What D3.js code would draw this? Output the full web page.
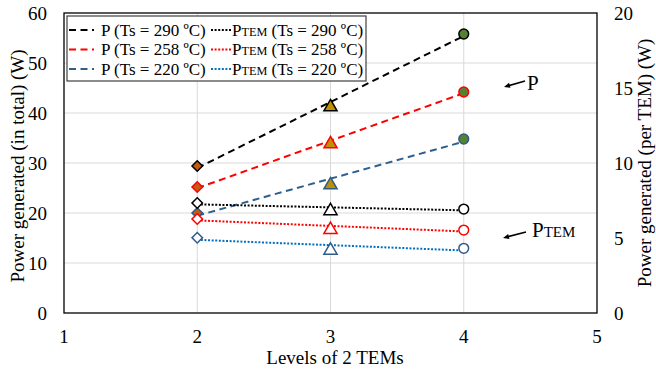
<!DOCTYPE html>
<html>
<head>
<meta charset="utf-8">
<script src="https://cdn.jsdelivr.net/npm/d3@7"></script>
<style>
  body { margin: 0; background: #fff; }
  svg text { font-family: "Liberation Serif", "Times New Roman", serif; fill: #000; }
</style>
</head>
<body>
<svg class="svg"></svg>
<script>
// data
const levels = [2, 3, 4]
const pTotal290 = [29.4, 41.4, 55.8]
const pTotal258 = [25.2, 34.0, 44.2]
const pTotal220 = [20.0, 25.8, 34.8]
const pTem290 = [7.33, 6.87, 6.93]
const pTem258 = [6.27, 5.62, 5.53]
const pTem220 = [5.02, 4.24, 4.31]
const xTicks = [1, 2, 3, 4, 5]
const yLeftTicks = [0, 10, 20, 30, 40, 50, 60]
const yRightTicks = [0, 5, 10, 15, 20]
const temps = ["290", "258", "220"]

const metrics = { width: 656, height: 371, left: 64, right: 597, top: 13, bottom: 313 }

const svg = d3.select(".svg")
  .attr("width", metrics.width)
  .attr("height", metrics.height)

svg.append("rect").attr("width", metrics.width).attr("height", metrics.height).attr("fill", "#fff")

const x = d3.scaleLinear().domain([1, 5]).range([metrics.left, metrics.right])
const yL = d3.scaleLinear().domain([0, 60]).range([metrics.bottom, metrics.top])
const yR = d3.scaleLinear().domain([0, 20]).range([metrics.bottom, metrics.top])

// gridlines
const grid = svg.append("g")
grid.selectAll("line.h")
  .data(yLeftTicks.slice(1, -1))
  .join("line")
  .attr("x1", metrics.left).attr("x2", metrics.right)
  .attr("y1", d => yL(d)).attr("y2", d => yL(d))
  .attr("stroke", "#d9d9d9").attr("stroke-width", 1)
grid.selectAll("line.v")
  .data(xTicks.slice(1, -1))
  .join("line")
  .attr("y1", metrics.top).attr("y2", metrics.bottom)
  .attr("x1", d => x(d)).attr("x2", d => x(d))
  .attr("stroke", "#d9d9d9").attr("stroke-width", 1)

// frame
svg.append("rect")
  .attr("x", metrics.left).attr("y", metrics.top)
  .attr("width", metrics.right - metrics.left).attr("height", metrics.bottom - metrics.top)
  .attr("fill", "none").attr("stroke", "#000").attr("stroke-width", 1.3)

// tick labels
const fs = 19
svg.append("g").selectAll("text")
  .data(yLeftTicks).join("text")
  .attr("x", 47).attr("y", d => yL(d)).attr("dy", "0.35em")
  .attr("text-anchor", "end").attr("font-size", fs).text(d => d)
svg.append("g").selectAll("text")
  .data(yRightTicks).join("text")
  .attr("x", 614).attr("y", d => yR(d)).attr("dy", "0.35em")
  .attr("font-size", fs).text(d => d)
svg.append("g").selectAll("text")
  .data(xTicks).join("text")
  .attr("x", d => x(d)).attr("y", 343)
  .attr("text-anchor", "middle").attr("font-size", fs).text(d => d)

// axis titles
svg.append("text").attr("x", 335).attr("y", 364).attr("text-anchor", "middle")
  .attr("font-size", fs).text("Levels of 2 TEMs")
svg.append("text").attr("transform", `translate(24,${(metrics.top + metrics.bottom) / 2 + 3}) rotate(-90)`)
  .attr("text-anchor", "middle").attr("font-size", fs).text("Power generated (in total) (W)")
svg.append("text").attr("transform", `translate(651,${(metrics.top + metrics.bottom) / 2}) rotate(-90)`)
  .attr("text-anchor", "middle").attr("font-size", fs).text("Power generated (per TEM) (W)")

// trend line (least squares) from the points
function fit(xs, ys) {
  const mx = d3.mean(xs), my = d3.mean(ys)
  const b = d3.sum(xs, (v, i) => (v - mx) * (ys[i] - my)) / d3.sum(xs, v => (v - mx) ** 2)
  return v => my + b * (v - mx)
}

const fills = ["#c55a11", "#bf9000", "#548235"]
const shapes = [d3.symbolSquare, d3.symbolTriangle, d3.symbolCircle]
const sizes = [55, 75, 75]
const rot = [45, 0, 0]

const series = [
  { vals: pTotal290, y: yL, line: "#000", mark: "#000", dash: "7,4.5", filled: true },
  { vals: pTotal258, y: yL, line: "#ff0000", mark: "#ff0000", dash: "7,4.5", filled: true },
  { vals: pTotal220, y: yL, line: "#2f5f8f", mark: "#2e5b8a", dash: "7,4.5", filled: true },
  { vals: pTem290, y: yR, line: "#000", mark: "#000", dash: "2,1.6", filled: false },
  { vals: pTem258, y: yR, line: "#ff0000", mark: "#ff0000", dash: "2,1.6", filled: false },
  { vals: pTem220, y: yR, line: "#0070c0", mark: "#2e5b8a", dash: "2,1.6", filled: false }
]

const plot = svg.append("g")
series.forEach(s => {
  const f = fit(levels, s.vals)
  const ends = [levels[0], levels[levels.length - 1]]
  plot.append("path")
    .attr("d", d3.line().x(d => x(d)).y(d => s.y(f(d)))(ends))
    .attr("fill", "none").attr("stroke", s.line).attr("stroke-width", 2)
    .attr("stroke-dasharray", s.dash)
})
series.forEach(s => {
  plot.selectAll(null)
    .data(s.vals)
    .join("path")
    .attr("transform", (d, i) => `translate(${x(levels[i])},${s.y(d) + (i === 1 ? 1 : 0)}) rotate(${rot[i]})`)
    .attr("d", (d, i) => d3.symbol().type(shapes[i]).size(sizes[i])())
    .attr("fill", (d, i) => s.filled ? fills[i] : "#fff")
    .attr("stroke", s.mark).attr("stroke-width", 1.5)
})

// legend
const lg = svg.append("g")
lg.append("rect").attr("x", 67).attr("y", 16).attr("width", 299).attr("height", 65)
  .attr("fill", "#fff").attr("stroke", "#404040").attr("stroke-width", 1.2)
const lfs = 17
series.forEach((s, i) => {
  const col = i < 3 ? 0 : 1
  const row = i % 3
  const ly = 30 + row * 19.5
  const lx = col === 0 ? 69 : 211
  const lw = col === 0 ? 25 : 20
  lg.append("line").attr("x1", lx).attr("x2", lx + lw).attr("y1", ly).attr("y2", ly)
    .attr("stroke", s.line).attr("stroke-width", 2).attr("stroke-dasharray", s.dash)
  const t = lg.append("text").attr("x", col === 0 ? 101 : 232).attr("y", ly).attr("dy", "0.35em")
    .attr("font-size", lfs)
  if (col === 0) {
    t.text(`P (Ts = ${temps[row]} ºC)`)
  } else {
    t.append("tspan").text("P")
    t.append("tspan").attr("font-size", lfs * 0.72).text("TEM")
    t.append("tspan").text(` (Ts = ${temps[row]} ºC)`)
  }
})

// annotations
function arrow(x1, y1, x2, y2) {
  const a = Math.atan2(y2 - y1, x2 - x1)
  const L = 6, W = 2.6
  svg.append("line").attr("x1", x1).attr("y1", y1)
    .attr("x2", x2 - Math.cos(a) * 4).attr("y2", y2 - Math.sin(a) * 4)
    .attr("stroke", "#000").attr("stroke-width", 1.6)
  const p = [
    [x2, y2],
    [x2 - L * Math.cos(a) + W * Math.sin(a), y2 - L * Math.sin(a) - W * Math.cos(a)],
    [x2 - L * Math.cos(a) - W * Math.sin(a), y2 - L * Math.sin(a) + W * Math.cos(a)]
  ]
  svg.append("path").attr("d", d3.line()(p) + "Z").attr("fill", "#000")
}
arrow(525, 81, 504, 87)
svg.append("text").attr("x", 527).attr("y", 90).attr("font-size", 21).text("P")
arrow(526, 232, 503, 238)
const pt = svg.append("text").attr("x", 532).attr("y", 237).attr("font-size", 21)
pt.append("tspan").text("P")
pt.append("tspan").attr("font-size", 15).text("TEM")
</script>
</body>
</html>
